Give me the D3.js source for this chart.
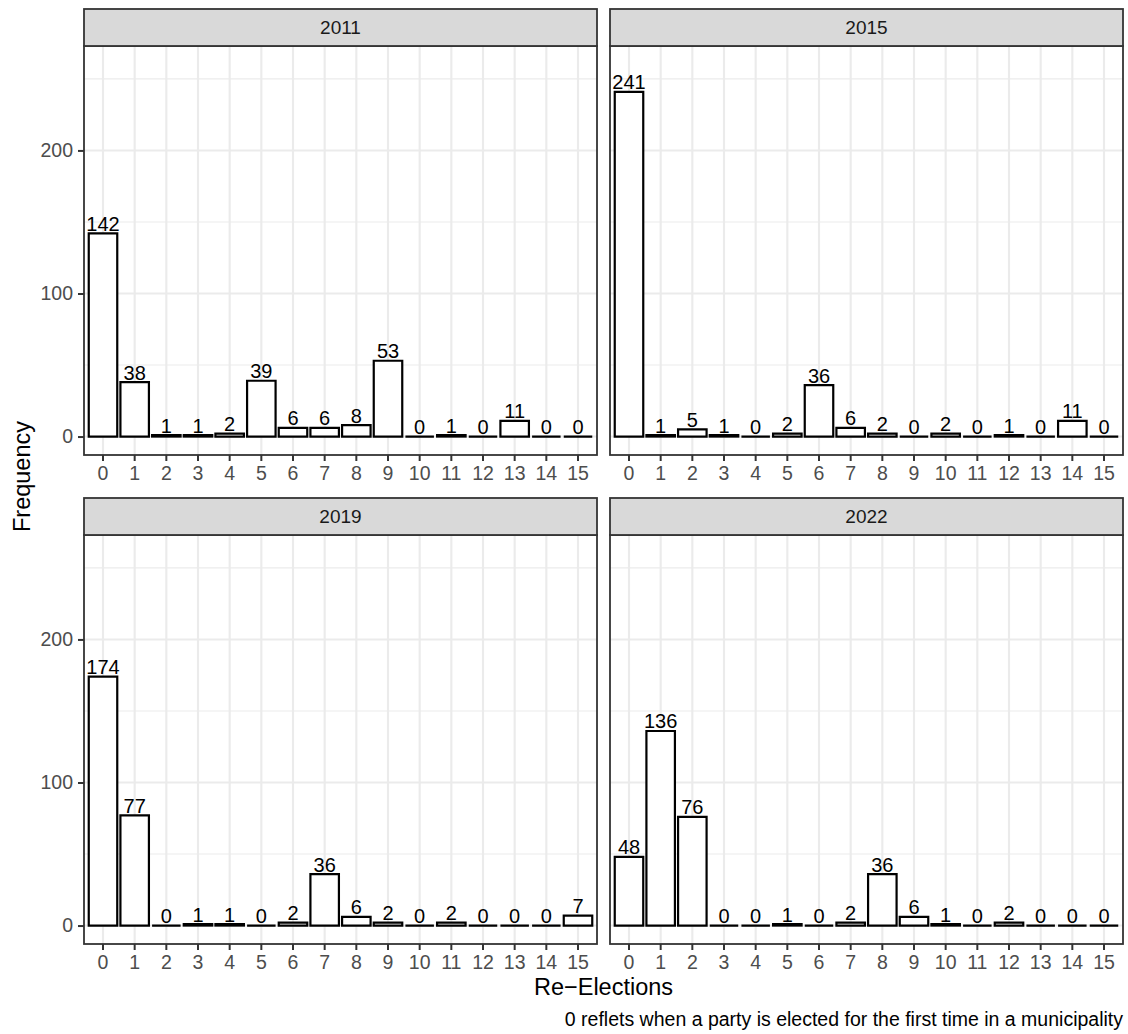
<!DOCTYPE html>
<html>
<head>
<meta charset="utf-8">
<script src="https://cdn.jsdelivr.net/npm/d3@7"></script>
<style>
	body { margin: 0; background: #ffffff; }
	svg text { font-family: "Liberation Sans", Arial, Helvetica, sans-serif; }
</style>
</head>
<body>
<div class="facetPlot"></div>
<script>

// categories on the x axis (number of re-elections)
var reElections = ["0", "1", "2", "3", "4", "5", "6", "7", "8", "9", "10", "11", "12", "13", "14", "15"];

// facet names
var years = ["2011", "2015", "2019", "2022"];

// frequencies per facet, same order as reElections
var counts2011 = [142, 38, 1, 1, 2, 39, 6, 6, 8, 53, 0, 1, 0, 11, 0, 0];
var counts2015 = [241, 1, 5, 1, 0, 2, 36, 6, 2, 0, 2, 0, 1, 0, 11, 0];
var counts2019 = [174, 77, 0, 1, 1, 0, 2, 36, 6, 2, 0, 2, 0, 0, 0, 7];
var counts2022 = [48, 136, 76, 0, 0, 1, 0, 2, 36, 6, 1, 0, 2, 0, 0, 0];

// y axis ticks
var yMajorTicks = [0, 100, 200];
var yMinorTicks = [50, 150, 250];

var caption = "0 reflets when a party is elected for the first time in a municipality";

var countsByYear = {
	"2011": counts2011,
	"2015": counts2015,
	"2019": counts2019,
	"2022": counts2022
};

/* ********* Layout ********* */

var totalWidth = 1128,
	totalHeight = 1034;

var panelWidth = 513,
	panelHeight = 409,
	stripHeight = 37;

var colLeft = [84, 610],
	rowTop = [9, 498];

var svg = d3.select(".facetPlot")
	.append("svg")
	.attr("width", totalWidth)
	.attr("height", totalHeight);

// shared scales (facet_wrap with fixed scales)
var x = d3.scaleBand()
	.domain(reElections)
	.range([0, panelWidth])
	.paddingInner(0.1)
	.paddingOuter(0.15);

var y = d3.scaleLinear()
	.domain([-12.9, 273])
	.range([panelHeight, 0]);

years.forEach(function(year, i) {

	var col = i % 2,
		row = Math.floor(i / 2);

	var data = reElections.map(function(cat, j) {
		return { "cat": cat, "count": countsByYear[year][j] };
	});

	var g = svg.append("g")
		.attr("transform", "translate(" + colLeft[col] + "," + (rowTop[row] + stripHeight) + ")");

	// strip
	var strip = svg.append("g")
		.attr("transform", "translate(" + colLeft[col] + "," + rowTop[row] + ")");

	strip.append("rect")
		.attr("width", panelWidth)
		.attr("height", stripHeight)
		.style("fill", "#d9d9d9")
		.style("stroke", "#333333")
		.style("stroke-width", "1.8px");

	strip.append("text")
		.attr("x", panelWidth / 2)
		.attr("y", stripHeight / 2)
		.attr("dy", "0.35em")
		.style("text-anchor", "middle")
		.style("font-size", "19px")
		.style("fill", "#1a1a1a")
		.text(year);

	// panel background
	g.append("rect")
		.attr("width", panelWidth)
		.attr("height", panelHeight)
		.style("fill", "#ffffff");

	/* grid */
	var grid = g.append("g")
		.style("stroke", "#ebebeb");

	grid.append("g")
		.selectAll("line")
		.data(yMinorTicks)
		.join("line")
		.attr("x1", 0)
		.attr("x2", panelWidth)
		.attr("y1", d => y(d))
		.attr("y2", d => y(d))
		.style("stroke-width", "1.1px");

	grid.append("g")
		.selectAll("line")
		.data(yMajorTicks)
		.join("line")
		.attr("x1", 0)
		.attr("x2", panelWidth)
		.attr("y1", d => y(d))
		.attr("y2", d => y(d))
		.style("stroke-width", "2.1px");

	grid.append("g")
		.selectAll("line")
		.data(reElections)
		.join("line")
		.attr("x1", d => x(d) + x.bandwidth() / 2)
		.attr("x2", d => x(d) + x.bandwidth() / 2)
		.attr("y1", 0)
		.attr("y2", panelHeight)
		.style("stroke-width", "2.1px");

	// bars as closed paths, so zero-height bars still show their outline
	g.selectAll("path.bar")
		.data(data)
		.join("path")
		.attr("class", "bar")
		.attr("d", function(d) {
			var x0 = x(d.cat),
				w = x.bandwidth(),
				top = y(d.count),
				base = y(0);
			return "M" + x0 + "," + base + "L" + (x0 + w) + "," + base +
				"L" + (x0 + w) + "," + top + "L" + x0 + "," + top + "Z";
		})
		.style("fill", "#ffffff")
		.style("stroke", "#000000")
		.style("stroke-width", "2.2px")
		.style("stroke-linejoin", "miter");

	// count labels
	g.selectAll("text.count")
		.data(data)
		.join("text")
		.attr("class", "count")
		.attr("x", d => x(d.cat) + x.bandwidth() / 2)
		.attr("y", d => y(d.count) - 2.5)
		.style("text-anchor", "middle")
		.style("font-size", "20px")
		.style("fill", "#000000")
		.text(d => d.count);

	// panel border
	g.append("rect")
		.attr("width", panelWidth)
		.attr("height", panelHeight)
		.style("fill", "none")
		.style("stroke", "#333333")
		.style("stroke-width", "1.8px");

	// x axis (every facet gets its own)
	var xAxis = g.append("g")
		.attr("transform", "translate(0," + panelHeight + ")")
		.call(d3.axisBottom(x).tickSize(6).tickSizeOuter(0).tickPadding(5));

	xAxis.select(".domain").remove();
	xAxis.selectAll("line")
		.style("stroke", "#333333")
		.style("stroke-width", "2px");
	xAxis.selectAll("text")
		.style("font-size", "19.5px")
		.style("fill", "#4d4d4d")
		.style("font-family", "'Liberation Sans', Arial, sans-serif");

	// y axis only on the left column
	if(col === 0) {
		var yAxis = g.append("g")
			.call(d3.axisLeft(y).tickValues(yMajorTicks).tickSize(6).tickPadding(5));

		yAxis.select(".domain").remove();
		yAxis.selectAll("line")
			.style("stroke", "#333333")
			.style("stroke-width", "2px");
		yAxis.selectAll("text")
			.style("font-size", "19.5px")
			.style("fill", "#4d4d4d")
			.style("font-family", "'Liberation Sans', Arial, sans-serif");
	}
});

/* ********* Titles ********* */

svg.append("text")
	.attr("x", (colLeft[0] + colLeft[1] + panelWidth) / 2)
	.attr("y", 995)
	.style("text-anchor", "middle")
	.style("font-size", "23.5px")
	.style("fill", "#000000")
	.text("Re\u2212Elections");

svg.append("text")
	.attr("transform", "translate(30," + ((rowTop[0] + rowTop[1] + stripHeight + panelHeight) / 2) + ") rotate(-90)")
	.style("text-anchor", "middle")
	.style("font-size", "23.5px")
	.style("fill", "#000000")
	.text("Frequency");

svg.append("text")
	.attr("x", colLeft[1] + panelWidth)
	.attr("y", 1026)
	.style("text-anchor", "end")
	.style("font-size", "19.5px")
	.style("fill", "#000000")
	.text(caption);

</script>
</body>
</html>
